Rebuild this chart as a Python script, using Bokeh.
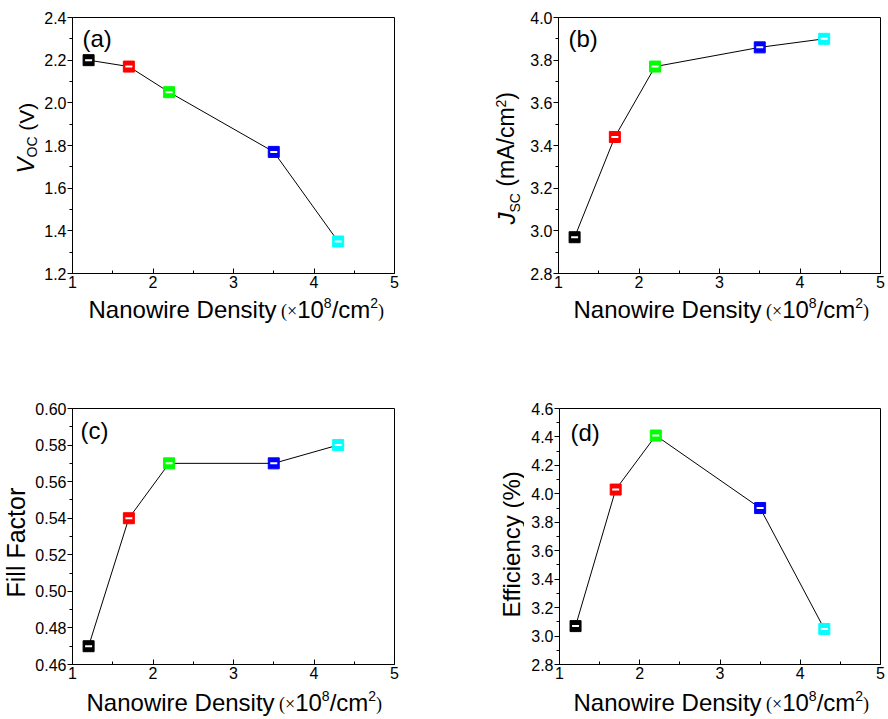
from math import pi
from bokeh.plotting import figure
from bokeh.models import Label, Range1d, FixedTicker, PrintfTickFormatter, ColumnDataSource
from bokeh.layouts import column, row
from bokeh.embed import file_html
from bokeh.resources import INLINE

SANS = "Liberation Sans"
SERIF = "Liberation Serif"
MID = 0.35  # distance (in em) from the baseline to the middle of the font box

# ---------------- data ----------------
density = [1.2, 1.7, 2.2, 3.5, 4.3]
marker_colors = ["#000000", "#ff0000", "#00ff00", "#0000ff", "#00ffff"]
voc = [2.20, 2.17, 2.05, 1.77, 1.35]
jsc = [2.97, 3.44, 3.77, 3.86, 3.90]
fill_factor = [0.47, 0.54, 0.57, 0.57, 0.58]
efficiency = [3.07, 4.03, 4.41, 3.90, 3.05]

x_ticks = [1, 2, 3, 4, 5]
x_minor = [1.5, 2.5, 3.5, 4.5]
voc_ticks = [1.2, 1.4, 1.6, 1.8, 2.0, 2.2, 2.4]
jsc_ticks = [2.8, 3.0, 3.2, 3.4, 3.6, 3.8, 4.0]
ff_ticks = [0.46, 0.48, 0.50, 0.52, 0.54, 0.56, 0.58, 0.60]
eff_ticks = [2.8, 3.0, 3.2, 3.4, 3.6, 3.8, 4.0, 4.2, 4.4, 4.6]
panel_letters = ["(a)", "(b)", "(c)", "(d)"]

# ---------------- text metrics (Arial / Times compatible) ----------------
SANS_W = {
    "N": .722, "a": .556, "n": .556, "o": .556, "w": .722, "i": .222, "r": .333,
    "e": .556, " ": .278, "D": .722, "s": .5, "t": .278, "y": .5, "1": .556,
    "0": .556, "8": .556, "/": .278, "c": .5, "m": .833, "2": .556, "(": .333,
    ")": .333, "F": .611, "l": .222, "E": .667, "f": .278, "%": .889, "A": .667,
    "V": .667, "J": .5, "O": .778, "C": .722, "S": .667,
}
SERIF_W = {" ": .25, "(": .333, ")": .333, "\u00d7": .564}


def text_w(s, size, font):
    table = SERIF_W if font == SERIF else SANS_W
    return sum(table.get(ch, 0.556) for ch in s) * size


XLABEL = [
    ("Nanowire Density", 24, SANS, "normal", 0),
    (" (\u00d7", 18, SERIF, "normal", 0),
    ("10", 24, SANS, "normal", 0),
    ("8", 14, SANS, "normal", 10),
    ("/cm", 24, SANS, "normal", 0),
    ("2", 14, SANS, "normal", 10),
    (")", 18, SERIF, "normal", 0),
]

YLABEL_A = [
    ("V", 24, SANS, "italic", 0),
    ("OC", 14, SANS, "normal", -3),
    (" (V)", 21, SANS, "normal", 0),
]
YLABEL_B = [
    ("J", 24, SANS, "italic", 0),
    ("SC", 14, SANS, "normal", -5),
    (" (mA/cm", 23, SANS, "normal", 0),
    ("2", 14, SANS, "normal", 9),
    (")", 23, SANS, "normal", 0),
]
YLABEL_C = [("Fill Factor", 25, SANS, "normal", 0)]
YLABEL_D = [("Efficiency (%)", 24, SANS, "normal", 0)]


def blank_fig(w, h):
    f = figure(width=w, height=h, x_range=Range1d(0, w), y_range=Range1d(0, h),
               output_backend="svg", toolbar_location=None, min_border=0,
               x_axis_type=None, y_axis_type=None, frame_align=False, title=None)
    f.outline_line_color = None
    f.grid.visible = False
    return f


def split_lead(txt, size, font):
    body = txt.lstrip(" ")
    lead = text_w(txt[:len(txt) - len(body)], size, font)
    return body, lead, text_w(body, size, font)


def xlabel_fig(w, h, x_start, base_y):
    f = blank_fig(w, h)
    cx = x_start
    for txt, size, font, style, rise in XLABEL:
        body, lead, width = split_lead(txt, size, font)
        cx += lead
        f.add_layout(Label(x=cx, y=h - (base_y - rise - MID * size), text=body,
                           text_font=font, text_font_size=f"{size}px",
                           text_font_style=style, text_color="black",
                           text_align="left", text_baseline="middle"))
        cx += width
    return f


def ylabel_fig(w, h, pieces, base_x, start_y):
    f = blank_fig(w, h)
    cy = start_y
    for txt, size, font, style, rise in pieces:
        body, lead, width = split_lead(txt, size, font)
        cy -= lead
        f.add_layout(Label(x=base_x - rise - MID * size, y=h - cy, text=body,
                           text_font=font, text_font_size=f"{size}px",
                           text_font_style=style, text_color="black",
                           text_align="left", text_baseline="middle",
                           angle=pi / 2))
        cy -= width
    return f


def make_panel(values, yticks, yfmt, fig_w, fig_h, L, T, W, H, letter, letter_off):
    x0, x1 = x_ticks[0], x_ticks[-1]
    y0, y1 = yticks[0], yticks[-1]
    p = figure(width=fig_w, height=fig_h, title=None,
               x_range=Range1d(x0, x1), y_range=Range1d(y0, y1),
               output_backend="svg", toolbar_location=None, frame_align=False,
               min_border_left=L, min_border_top=T,
               min_border_right=fig_w - L - W, min_border_bottom=fig_h - T - H)
    p.grid.visible = False
    p.outline_line_color = "black"
    p.outline_line_width = 1
    p.background_fill_color = "white"
    p.border_fill_color = "white"

    ymin = [(a + b) / 2 for a, b in zip(yticks, yticks[1:])]
    p.xaxis.ticker = FixedTicker(ticks=x_ticks, minor_ticks=x_minor)
    p.yaxis.ticker = FixedTicker(ticks=yticks, minor_ticks=ymin)
    p.xaxis.formatter = PrintfTickFormatter(format="%d")
    p.yaxis.formatter = PrintfTickFormatter(format=yfmt)
    for ax in (p.xaxis[0], p.yaxis[0]):
        ax.axis_line_color = "black"
        ax.major_tick_line_color = "black"
        ax.minor_tick_line_color = "black"
        ax.major_label_text_font = SANS
        ax.major_label_text_font_size = "16px"
        ax.major_label_text_color = "black"
    p.xaxis.major_tick_in = 5
    p.xaxis.major_tick_out = 0
    p.xaxis.minor_tick_in = 3
    p.xaxis.minor_tick_out = 0
    p.xaxis.major_label_standoff = 2
    p.yaxis.major_tick_in = 0
    p.yaxis.major_tick_out = 5
    p.yaxis.minor_tick_in = 0
    p.yaxis.minor_tick_out = 3
    p.yaxis.major_label_standoff = 1

    src = ColumnDataSource(dict(x=density, y=values, c=marker_colors))
    p.line("x", "y", source=src, line_color="black", line_width=1)
    p.scatter("x", "y", source=src, marker="square", size=11,
              fill_color="c", line_color="c", line_width=1)
    p.scatter("x", "y", source=src, marker="dash", size=7,
              line_color="white", line_width=2)

    lx = x0 + letter_off[0] / W * (x1 - x0)
    ly = y1 - (letter_off[1] - MID * 24) / H * (y1 - y0)
    p.add_layout(Label(x=lx, y=ly, text=letter, text_font=SANS,
                       text_font_size="24px", text_color="black",
                       text_align="left", text_baseline="middle"))
    return p


# ---------------- top row (height 390) ----------------
pa = make_panel(voc, voc_ticks, "%.1f", 401, 295, 33, 17, 322, 256,
                panel_letters[0], (10, 29))
group_a = row(ylabel_fig(39, 390, YLABEL_A, 33, 173),
              column(pa, xlabel_fig(401, 95, 49, 22)))

pb = make_panel(jsc, jsc_ticks, "%.1f", 363, 295, 35, 17, 322, 256,
                panel_letters[1], (10, 29))
group_b = row(ylabel_fig(83, 390, YLABEL_B, 74, 224),
              column(pb, xlabel_fig(363, 95, 50, 22)))

# ---------------- bottom row (height 327) ----------------
pc = make_panel(fill_factor, ff_ticks, "%.2f", 410, 296, 42, 18, 322, 256,
                panel_letters[2], (8, 30))
group_c = row(ylabel_fig(30, 327, YLABEL_C, 24, 597 - 390),
              column(pc, xlabel_fig(410, 31, 56, 24)))

pd = make_panel(efficiency, eff_ticks, "%.1f", 362, 296, 35, 18, 321, 256,
                panel_letters[3], (11, 32))
group_d = row(ylabel_fig(84, 327, YLABEL_D, 79, 617 - 390),
              column(pd, xlabel_fig(362, 31, 49, 24)))

layout = column(row(group_a, group_b), row(group_c, group_d))
open("out.html", "w").write(file_html(layout, INLINE))
